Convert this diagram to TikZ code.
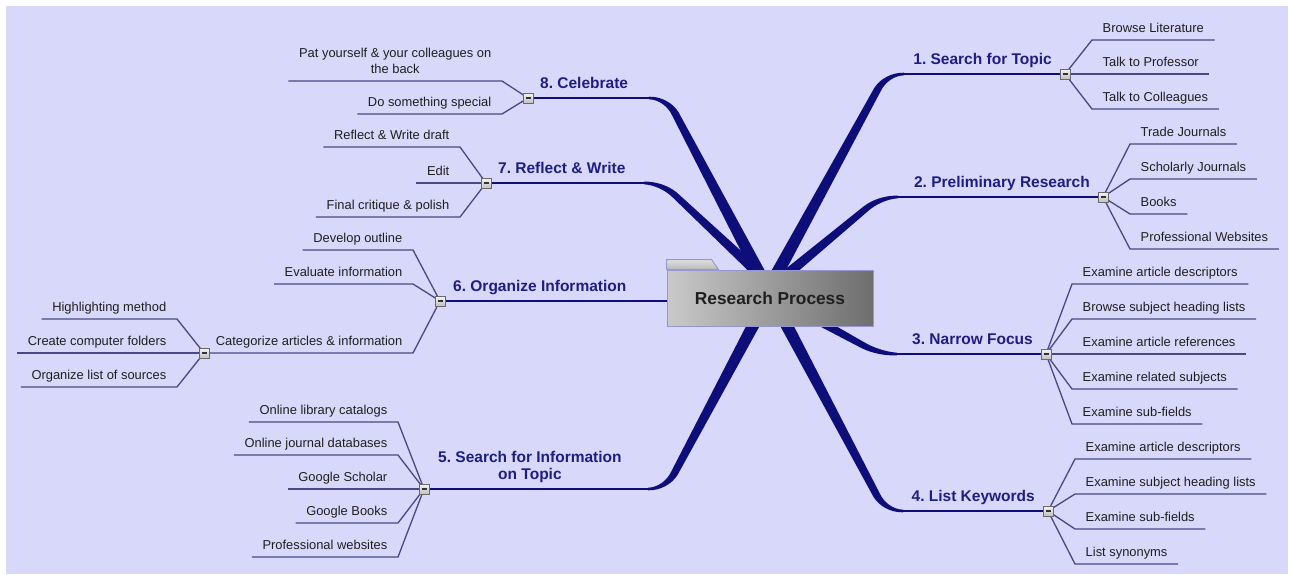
\documentclass[tikz,border=0pt]{standalone}
\usepackage{fontspec}
\setmainfont{Liberation Sans}
\usetikzlibrary{calc}
\definecolor{bgc}{RGB}{216,216,250}
\definecolor{navyc}{RGB}{14,14,122}
\definecolor{titlec}{RGB}{30,30,130}
\definecolor{subline}{RGB}{72,72,134}
\definecolor{boxborder}{RGB}{150,150,215}
\pgfdeclarelayer{back}\pgfdeclarelayer{lines}
\pgfsetlayers{back,lines,main}
\newcommand\taper[5]{%
\coordinate (#1A) at ($(#1K)!#2pt!(#1O)$);
\coordinate (#1P) at ($(#1K)+(#3*#2,0)$);
\coordinate (#1OL) at ($(#1O)!#4pt!90:(#1A)$);
\coordinate (#1OR) at ($(#1O)!#4pt!-90:(#1A)$);
\coordinate (#1AL) at ($(#1A)!#5pt!-90:(#1O)$);
\coordinate (#1AR) at ($(#1A)!#5pt!90:(#1O)$);
\coordinate (#1PL) at ($(#1P)!1.3pt!-90:(#1K)$);
\coordinate (#1PR) at ($(#1P)!1.3pt!90:(#1K)$);
\coordinate (#1KL) at ($(#1K)+0.6*(#1AL)-0.6*(#1A)+0.6*(#1PL)-0.6*(#1P)$);
\coordinate (#1KR) at ($(#1K)+0.6*(#1AR)-0.6*(#1A)+0.6*(#1PR)-0.6*(#1P)$);
\fill[navyc] (#1OL) -- (#1AL) .. controls ($(#1AL)!0.6!(#1KL)$) and ($(#1PL)!0.6!(#1KL)$) .. (#1PL)
  -- (#1PR) .. controls ($(#1PR)!0.6!(#1KR)$) and ($(#1AR)!0.6!(#1KR)$) .. (#1AR) -- (#1OR) -- cycle;
}
\newcommand\rkid[4]{\node[rchild] (#1) at (#3) {#4};
\begin{pgfonlayer}{lines}\draw[sline] (#2.center) -- (#1.south west) -- (#1.south east);\end{pgfonlayer}}
\newcommand\lkid[4]{\node[lchild] (#1) at (#3) {#4};
\begin{pgfonlayer}{lines}\draw[sline] (#2.center) -- (#1.south east) -- (#1.south west);\end{pgfonlayer}}
\tikzset{
  kidtext/.style={font=\fontsize{12.9}{16}\selectfont\frenchspacing, text=black!88, inner xsep=10.5pt, inner ysep=7pt, text depth=0pt},
  rchild/.style={kidtext, anchor=south west},
  lchild/.style={kidtext, anchor=south east},
  sline/.style={draw=subline, line width=1.3pt},
  uline/.style={draw=navyc, line width=2.6pt},
  ttl/.style={font=\fontsize{15.5}{17}\selectfont\bfseries\frenchspacing, text=titlec, inner xsep=0pt, inner ysep=9.5pt, text depth=0pt},
  cbox/.style={draw={rgb,255:red,105;green,105;blue,105}, line width=0.8pt, minimum size=10pt, inner sep=0pt,
    top color=white!92!gray, bottom color=black!25,
    path picture={\draw[line width=1.1pt,black!80] ($(path picture bounding box.west)+(2.5pt,0)$) -- ($(path picture bounding box.east)+(-2.5pt,0)$);}},
  centerbox/.style={draw=boxborder, line width=0.9pt, minimum width=206pt, minimum height=56pt, left color=black!21, right color=black!57,
    font=\fontsize{17.3}{20}\selectfont\bfseries, text=black!88}
}
\begin{document}
\begin{tikzpicture}[x=1pt,y=-1pt]
\useasboundingbox (0,0) rectangle (1290,574);
\begin{pgfonlayer}{back}
\fill[white] (0,0) rectangle (1290,574);
\fill[bgc] (6,6) rectangle (1288,574);
\end{pgfonlayer}
% collapse boxes
\node[cbox] (b1) at (1065,74) {};
\node[cbox] (b2) at (1103,197) {};
\node[cbox] (b3) at (1046,354) {};
\node[cbox] (b4) at (1048,511) {};
\node[cbox] (b5) at (424,489) {};
\node[cbox] (b6) at (440,301) {};
\node[cbox] (b6c) at (204,353) {};
\node[cbox] (b7) at (486,183) {};
\node[cbox] (b8) at (528,98) {};
% main branches
\coordinate (m1O) at (768,290); \coordinate (m1K) at (886,74);
\coordinate (m2O) at (768,290); \coordinate (m2K) at (880,197);
\coordinate (m3O) at (762,290); \coordinate (m3K) at (879,354);
\coordinate (m4O) at (768,290); \coordinate (m4K) at (885,511);
\coordinate (m5O) at (772,290); \coordinate (m5K) at (666,489);
\coordinate (m6O) at (770,301);
\coordinate (m7O) at (776,290); \coordinate (m7K) at (662,183);
\coordinate (m8O) at (768,290); \coordinate (m8K) at (667,98);
\begin{pgfonlayer}{lines}
\taper{m1}{18}{1}{6.5}{3.6}
\taper{m2}{18}{1}{5.5}{3.2}
\taper{m3}{18}{1}{5.5}{3.2}
\taper{m4}{18}{1}{6.5}{3.6}
\taper{m5}{18}{-1}{6.5}{3.6}
\taper{m7}{18}{-1}{5.5}{3.2}
\taper{m8}{18}{-1}{6.5}{3.6}
\draw[uline] (m1P) -- (b1);
\draw[uline] (m2P) -- (b2);
\draw[uline] (m3P) -- (b3);
\draw[uline] (m4P) -- (b4);
\draw[uline] (m5P) -- (b5);
\draw[uline] (m6O) -- (b6);
\draw[uline] (m7P) -- (b7);
\draw[uline] (m8P) -- (b8);
\end{pgfonlayer}
% center
\node[centerbox] (root) at (770,298) {Research Process};
\filldraw[draw=boxborder, line width=0.9pt, top color=black!12, bottom color=black!28]
  (root.north west) -- ++(0,-10) -- ++(45,0) -- ++(7,10) -- cycle;
% titles
\node[ttl, anchor=south east] (t1) at ($(b1)+(-13,0)$) {1. Search for Topic};
\node[ttl, anchor=south east] (t2) at ($(b2)+(-13,0)$) {2. Preliminary Research};
\node[ttl, anchor=south east] (t3) at ($(b3)+(-13,0)$) {3. Narrow Focus};
\node[ttl, anchor=south east] (t4) at ($(b4)+(-13,0)$) {4. List Keywords};
\node[ttl, anchor=south west, align=center] (t5) at ($(b5)+(14,0)$) {5. Search for Information\\[-0.5pt]on Topic};
\node[ttl, anchor=south west] (t6) at ($(b6)+(13,0)$) {6. Organize Information};
\node[ttl, anchor=south west] (t7) at ($(b7)+(12,0)$) {7. Reflect \& Write};
\node[ttl, anchor=south west] (t8) at ($(b8)+(12,0)$) {8. Celebrate};
% children
\rkid{c11}{b1}{1092,40}{Browse Literature}
\rkid{c12}{b1}{1092,74}{Talk to Professor}
\rkid{c13}{b1}{1092,109}{Talk to Colleagues}
\rkid{c21}{b2}{1130,144}{Trade Journals}
\rkid{c22}{b2}{1130,179}{Scholarly Journals}
\rkid{c23}{b2}{1130,214}{Books}
\rkid{c24}{b2}{1130,249}{Professional Websites}
\rkid{c31}{b3}{1072,284}{Examine article descriptors}
\rkid{c32}{b3}{1072,319}{Browse subject heading lists}
\rkid{c33}{b3}{1072,354}{Examine article references}
\rkid{c34}{b3}{1072,389}{Examine related subjects}
\rkid{c35}{b3}{1072,424}{Examine sub-fields}
\rkid{c41}{b4}{1075,459}{Examine article descriptors}
\rkid{c42}{b4}{1075,494}{Examine subject heading lists}
\rkid{c43}{b4}{1075,529}{Examine sub-fields}
\rkid{c44}{b4}{1075,564}{List synonyms}
\node[lchild, align=center] (c81) at (502,81) {Pat yourself \& your colleagues on\\the back};
\begin{pgfonlayer}{lines}\draw[sline] (b8.center) -- (c81.south east) -- (c81.south west);\end{pgfonlayer}
\lkid{c82}{b8}{502,114}{Do something special}
\lkid{c71}{b7}{460,147}{Reflect \& Write draft}
\lkid{c72}{b7}{460,183}{Edit}
\lkid{c73}{b7}{460,217}{Final critique \& polish}
\lkid{c61}{b6}{413,250}{Develop outline}
\lkid{c62}{b6}{413,284}{Evaluate information}
\lkid{c63}{b6}{413,353}{Categorize articles \& information}
\begin{pgfonlayer}{lines}\draw[sline] (c63.south west) -- (b6c.center);\end{pgfonlayer}
\lkid{c64}{b6c}{177,319}{Highlighting method}
\lkid{c65}{b6c}{177,353}{Create computer folders}
\lkid{c66}{b6c}{177,387}{Organize list of sources}
\lkid{c51}{b5}{398,422}{Online library catalogs}
\lkid{c52}{b5}{398,455}{Online journal databases}
\lkid{c53}{b5}{398,489}{Google Scholar}
\lkid{c54}{b5}{398,523}{Google Books}
\lkid{c55}{b5}{398,557}{Professional websites}
\end{tikzpicture}
\end{document}
